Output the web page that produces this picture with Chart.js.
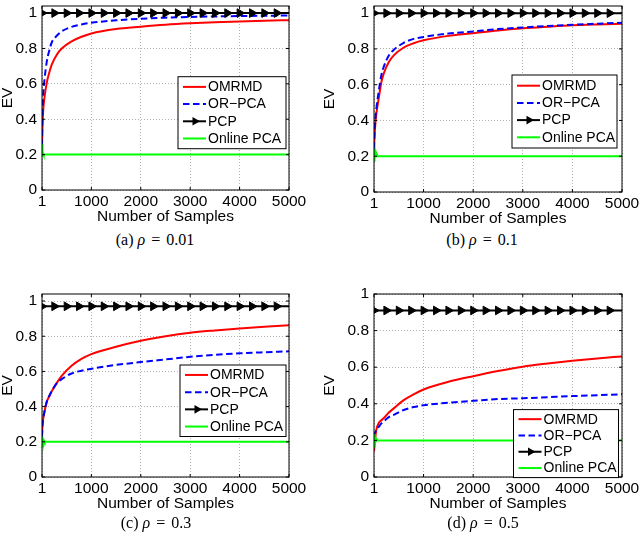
<!DOCTYPE html>
<html>
<head>
<meta charset="utf-8">
<title>EV vs Number of Samples</title>
<script src="https://cdn.jsdelivr.net/npm/chart.js@4.4.1/dist/chart.umd.min.js"></script>
<style>
    html, body { margin: 0; padding: 0; background: #fff; }
    body { width: 640px; height: 538px; position: relative; overflow: hidden; }
    canvas { position: absolute; }
    .caption {
        position: absolute;
        font-family: "Liberation Serif", "Times New Roman", serif;
        font-size: 16px;
        line-height: 18px;
        color: #000;
        white-space: nowrap;
        transform: translateX(-50%);
    }
    .caption .eq { margin: 0 6px; }
</style>
</head>
<body>
<canvas id="chartA" width="320" height="228" style="left:0;top:0"></canvas>
<canvas id="chartB" width="320" height="230" style="left:320px;top:0"></canvas>
<canvas id="chartC" width="320" height="227" style="left:0;top:288px"></canvas>
<canvas id="chartD" width="320" height="227" style="left:320px;top:288px"></canvas>

<div class="caption" style="left:155px;top:231px">(a) <i>ρ</i><span class="eq">=</span>0.01</div>
<div class="caption" style="left:482px;top:231px">(b) <i>ρ</i><span class="eq">=</span>0.1</div>
<div class="caption" style="left:156px;top:514px">(c) <i>ρ</i><span class="eq">=</span>0.3</div>
<div class="caption" style="left:483px;top:514px">(d) <i>ρ</i><span class="eq">=</span>0.5</div>

<script>
// axes
const xTicks = [1, 1000, 2000, 3000, 4000, 5000];
const yTicks = [0, 0.2, 0.4, 0.6, 0.8, 1];
const yTickLabels = ['0', '0.2', '0.4', '0.6', '0.8', '1'];
const seriesNames = ['OMRMD', 'OR\u2212PCA', 'PCP', 'Online PCA'];

// sample positions the curves were read at
const curveX = [1, 10, 25, 50, 100, 150, 200, 300, 400, 600, 800, 1000, 1500, 2000, 2500, 3000, 3500, 4000, 4500, 5000];
const onlineX = [1, 6, 12, 18, 24, 30, 38, 46, 56, 70, 90, 120, 5000];
const pcpX = [1, 251, 501, 751, 1001, 1251, 1501, 1751, 2001, 2251, 2501, 2751, 3001, 3251, 3501, 3751, 4001, 4251, 4501, 4751, 5000];

// (a) rho = 0.01
const omrmdA = [0.25, 0.35, 0.45, 0.52, 0.61, 0.665, 0.71, 0.765, 0.8, 0.84, 0.866, 0.885, 0.91, 0.923, 0.934, 0.942, 0.948, 0.953, 0.957, 0.96];
const orpcaA = [0.25, 0.42, 0.54, 0.62, 0.73, 0.79, 0.835, 0.872, 0.897, 0.922, 0.936, 0.945, 0.959, 0.968, 0.974, 0.978, 0.981, 0.983, 0.985, 0.986];
const onlineA = [0.26, 0.24, 0.21, 0.2, 0.205, 0.198, 0.2, 0.2, 0.2, 0.2, 0.2, 0.2, 0.2];
const pcpA = 1.0;

// (b) rho = 0.1
const omrmdB = [0.24, 0.3, 0.37, 0.44, 0.53, 0.615, 0.665, 0.727, 0.764, 0.808, 0.832, 0.848, 0.873, 0.888, 0.903, 0.915, 0.924, 0.932, 0.937, 0.941];
const orpcaB = [0.24, 0.32, 0.4, 0.47, 0.57, 0.655, 0.702, 0.763, 0.795, 0.834, 0.856, 0.867, 0.886, 0.898, 0.911, 0.92, 0.928, 0.935, 0.941, 0.946];
const onlineB = [0.2, 0.17, 0.24, 0.19, 0.22, 0.2, 0.205, 0.2, 0.21, 0.2, 0.2, 0.2, 0.2];
const pcpB = 1.0;

// (c) rho = 0.3
const omrmdC = [0.23, 0.29, 0.33, 0.37, 0.43, 0.46, 0.488, 0.535, 0.575, 0.632, 0.671, 0.698, 0.74, 0.774, 0.8, 0.82, 0.833, 0.844, 0.854, 0.862];
const orpcaC = [0.23, 0.29, 0.33, 0.37, 0.43, 0.462, 0.49, 0.532, 0.556, 0.588, 0.604, 0.615, 0.637, 0.653, 0.668, 0.683, 0.694, 0.703, 0.709, 0.714];
const onlineC = [0.19, 0.23, 0.17, 0.22, 0.18, 0.21, 0.19, 0.205, 0.2, 0.2, 0.2, 0.2, 0.2];
const pcpC = 0.97;

// (d) rho = 0.5
const omrmdD = [0.14, 0.17, 0.21, 0.26, 0.297, 0.31, 0.322, 0.352, 0.375, 0.42, 0.452, 0.478, 0.52, 0.551, 0.579, 0.603, 0.62, 0.635, 0.648, 0.659];
const orpcaD = [0.22, 0.235, 0.245, 0.255, 0.275, 0.293, 0.305, 0.327, 0.34, 0.366, 0.382, 0.392, 0.406, 0.416, 0.426, 0.43, 0.436, 0.442, 0.447, 0.452];
const onlineD = [0.2, 0.16, 0.235, 0.18, 0.22, 0.19, 0.21, 0.2, 0.205, 0.2, 0.2, 0.2, 0.2];
const pcpD = 0.91;

Chart.defaults.font.family = '"Liberation Sans", Arial, Helvetica, sans-serif';
Chart.defaults.font.size = 15.5;
Chart.defaults.color = '#000';

function toPoints(xs, ys) {
    return xs.map((x, i) => ({ x: x, y: ys[i] }));
}

// box around the axes with small inward ticks, like matlab
const framePlugin = {
    id: 'frame',
    afterDatasetsDraw(chart) {
        const { ctx, chartArea: a, scales } = chart;
        ctx.save();
        ctx.strokeStyle = '#000';
        ctx.lineWidth = 1;
        ctx.setLineDash([]);
        ctx.strokeRect(a.left, a.top, a.right - a.left, a.bottom - a.top);
        ctx.beginPath();
        scales.x.ticks.forEach(t => {
            const px = scales.x.getPixelForValue(t.value);
            ctx.moveTo(px, a.bottom); ctx.lineTo(px, a.bottom - 3);
            ctx.moveTo(px, a.top); ctx.lineTo(px, a.top + 3);
        });
        scales.y.ticks.forEach(t => {
            const py = scales.y.getPixelForValue(t.value);
            ctx.moveTo(a.left, py); ctx.lineTo(a.left + 3, py);
            ctx.moveTo(a.right, py); ctx.lineTo(a.right - 3, py);
        });
        ctx.stroke();
        ctx.restore();
    }
};

// legend drawn inside the plot box
const boxLegendPlugin = {
    id: 'boxLegend',
    afterDraw(chart, args, opts) {
        const { ctx, chartArea: a } = chart;
        const left = a.right - opts.right - opts.width;
        const top = a.top + opts.top;
        ctx.save();
        ctx.fillStyle = '#fff';
        ctx.fillRect(left, top, opts.width, opts.height);
        ctx.strokeStyle = '#000';
        ctx.lineWidth = 1;
        ctx.strokeRect(left, top, opts.width, opts.height);
        ctx.font = '14px "Liberation Sans", Arial, Helvetica, sans-serif';
        ctx.textBaseline = 'middle';
        chart.data.datasets.forEach((ds, i) => {
            const yy = top + opts.height / 2 + (i - 1.5) * opts.rowGap;
            ctx.strokeStyle = ds.borderColor;
            ctx.lineWidth = ds.borderWidth;
            ctx.setLineDash(ds.borderDash || []);
            ctx.beginPath();
            ctx.moveTo(left + 5, yy);
            ctx.lineTo(left + 28, yy);
            ctx.stroke();
            ctx.setLineDash([]);
            if (ds.pointStyle === 'triangle') {
                const cx = left + 17;
                ctx.fillStyle = '#000';
                ctx.beginPath();
                ctx.moveTo(cx + 5, yy);
                ctx.lineTo(cx - 2.5, yy - 4.3);
                ctx.lineTo(cx - 2.5, yy + 4.3);
                ctx.closePath();
                ctx.fill();
            }
            ctx.fillStyle = '#000';
            ctx.fillText(ds.label, left + 30, yy + 0.5);
        });
        ctx.restore();
    }
};

function buildChart(canvasId, omrmd, orpca, online, pcpLevel, look) {
    const ctx = document.getElementById(canvasId).getContext('2d');
    return new Chart(ctx, {
        type: 'line',
        data: {
            datasets: [
                {
                    label: seriesNames[0],
                    data: toPoints(curveX, omrmd),
                    borderColor: '#ff0000',
                    borderWidth: 2,
                    pointRadius: 0,
                    cubicInterpolationMode: 'monotone',
                    order: 3
                },
                {
                    label: seriesNames[1],
                    data: toPoints(curveX, orpca),
                    borderColor: '#0000ff',
                    borderWidth: 2,
                    borderDash: [6.5, 3.5],
                    pointRadius: 0,
                    cubicInterpolationMode: 'monotone',
                    order: 2
                },
                {
                    label: seriesNames[2],
                    data: pcpX.map(x => ({ x: x, y: pcpLevel })),
                    borderColor: '#000',
                    backgroundColor: '#000',
                    borderWidth: 2,
                    pointStyle: 'triangle',
                    rotation: 90,
                    pointRadius: pcpX.map(x => (x === 5000 ? 0 : 5)),
                    pointBackgroundColor: '#000',
                    pointBorderColor: '#000',
                    pointBorderWidth: 1,
                    order: 1
                },
                {
                    label: seriesNames[3],
                    data: toPoints(onlineX, online),
                    borderColor: '#00ff00',
                    borderWidth: 2,
                    pointRadius: 0,
                    tension: 0,
                    order: 0
                }
            ]
        },
        options: {
            responsive: false,
            animation: false,
            events: [],
            layout: { padding: { left: look.padLeft, right: look.padRight, top: look.padTop, bottom: 0 } },
            plugins: {
                legend: { display: false },
                tooltip: { enabled: false },
                boxLegend: look.legend
            },
            scales: {
                x: {
                    type: 'linear',
                    min: 1,
                    max: 5000,
                    afterBuildTicks: s => { s.ticks = xTicks.map(v => ({ value: v })); },
                    afterFit: s => { s.height = 38; s.paddingLeft = 0; s.paddingRight = 0; },
                    ticks: { padding: 2.2, maxRotation: 0, callback: (v, i) => String(xTicks[i]) },
                    grid: { color: '#b0b0b0', lineWidth: 1, drawTicks: false },
                    border: { display: false, dash: [1, 2] },
                    title: { display: true, text: 'Number of Samples', padding: { top: 0, bottom: 2.4 } }
                },
                y: {
                    type: 'linear',
                    min: 0,
                    max: look.yMax,
                    afterBuildTicks: s => { s.ticks = yTicks.map(v => ({ value: v })); },
                    afterFit: s => { s.width = look.yWidth; s.paddingTop = 0; s.paddingBottom = 0; },
                    ticks: { padding: 5, callback: (v, i) => yTickLabels[i] },
                    grid: { color: '#b0b0b0', lineWidth: 1, drawTicks: false },
                    border: { display: false, dash: [1, 2] },
                    title: { display: true, text: 'EV', padding: { top: -1.5, bottom: 0 } }
                }
            }
        },
        plugins: [framePlugin, boxLegendPlugin]
    });
}

buildChart('chartA', omrmdA, orpcaA, onlineA, pcpA, {
    padLeft: 0, padRight: 31, padTop: 3.3, yWidth: 42, yMax: 1.04,
    legend: { right: 3, top: 70.7, width: 108, height: 72, rowGap: 17.2 }
});
buildChart('chartB', omrmdB, orpcaB, onlineB, pcpB, {
    padLeft: 2, padRight: 18, padTop: 5, yWidth: 52, yMax: 1.04,
    legend: { right: 5, top: 69, width: 105, height: 73, rowGap: 17.2 }
});
buildChart('chartC', omrmdC, orpcaC, onlineC, pcpC, {
    padLeft: 0, padRight: 31, padTop: 3.3, yWidth: 42, yMax: 1.04,
    legend: { right: 3, top: 71, width: 106, height: 71.5, rowGap: 17.2 }
});
buildChart('chartD', omrmdD, orpcaD, onlineD, pcpD, {
    padLeft: 2, padRight: 18, padTop: 0.7, yWidth: 52, yMax: 1.0,
    legend: { right: 3.5, top: 115.6, width: 105, height: 68, rowGap: 16.3 }
});
</script>
</body>
</html>
